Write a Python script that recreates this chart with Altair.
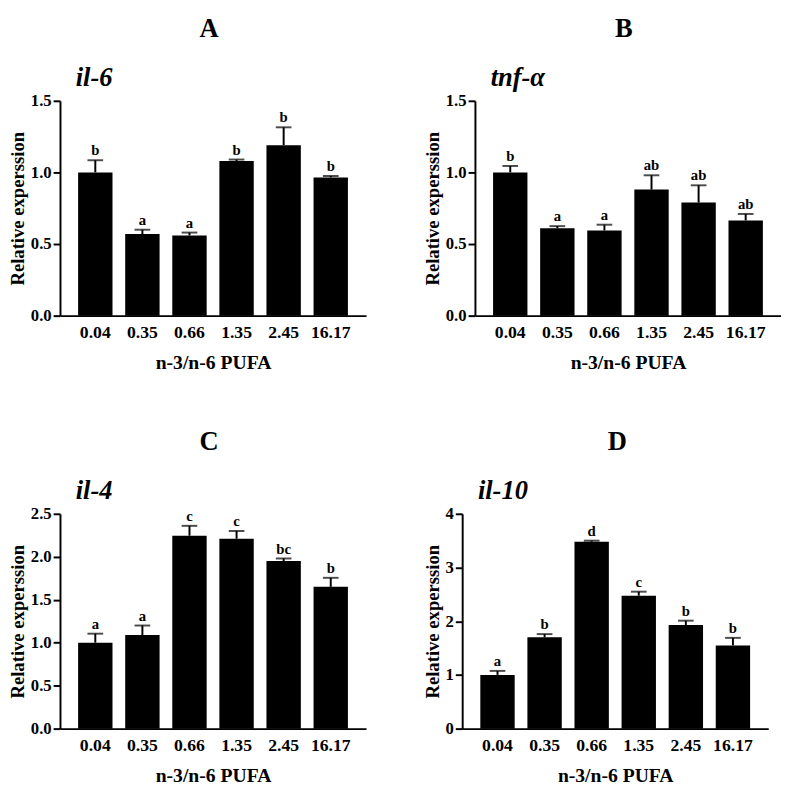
import altair as alt
import pandas as pd

categories = ["0.04", "0.35", "0.66", "1.35", "2.45", "16.17"]

il6_mean = [1.00, 0.57, 0.56, 1.08, 1.19, 0.965]
il6_upper = [1.085, 0.60, 0.58, 1.09, 1.315, 0.975]
il6_letters = ["b", "a", "a", "b", "b", "b"]

tnf_mean = [1.00, 0.61, 0.595, 0.88, 0.79, 0.665]
tnf_upper = [1.045, 0.625, 0.635, 0.98, 0.91, 0.71]
tnf_letters = ["b", "a", "a", "ab", "ab", "ab"]

il4_mean = [1.00, 1.09, 2.245, 2.21, 1.95, 1.65]
il4_upper = [1.105, 1.20, 2.36, 2.30, 1.98, 1.755]
il4_letters = ["a", "a", "c", "c", "bc", "b"]

il10_mean = [1.00, 1.70, 3.48, 2.475, 1.93, 1.55]
il10_upper = [1.075, 1.76, 3.50, 2.55, 2.01, 1.69]
il10_letters = ["a", "b", "d", "c", "b", "b"]

FONT = "Liberation Serif"


def panel(mean, upper, letters, gene, ymax, yvalues, fmt, label):
    df = pd.DataFrame({"ratio": categories, "mean": mean, "upper": upper, "letter": letters})
    xenc = alt.X(
        "ratio:N", sort=categories, title="n-3/n-6 PUFA",
        scale=alt.Scale(paddingInner=0.27, paddingOuter=0.385),
        axis=alt.Axis(labelAngle=0, ticks=False, labelFontSize=18, labelFont=FONT,
                      labelFontWeight="bold", labelColor="black", titleFontSize=20,
                      titleFont=FONT, titleFontWeight="bold", titleColor="black",
                      domainColor="black", domainWidth=2, labelPadding=8, titlePadding=12),
    )
    xplain = alt.X("ratio:N", sort=categories)
    yenc = alt.Y(
        "mean:Q", title="Relative experssion",
        scale=alt.Scale(domain=[0, ymax], nice=False, zero=True),
        axis=alt.Axis(values=yvalues, format=fmt, grid=False, labelFontSize=17, labelFont=FONT,
                      labelFontWeight="bold", labelColor="black", titleFontSize=19,
                      titleFont=FONT, titleFontWeight="bold", titleColor="black",
                      domainColor="black", domainWidth=2, tickColor="black", tickWidth=2,
                      tickSize=7, labelPadding=2, titlePadding=3),
    )
    base = alt.Chart(df)
    bars = base.mark_bar(color="black").encode(x=xenc, y=yenc)
    err = base.mark_rule(color="black", strokeWidth=2).encode(x=xplain, y="mean:Q", y2="upper:Q")
    cap = base.mark_tick(color="black", thickness=2, size=16).encode(x=xplain, y="upper:Q")
    txt = base.mark_text(baseline="bottom", dy=-2, font=FONT, fontWeight="bold",
                         fontSize=15, color="black").encode(x=xplain, y="upper:Q", text="letter:N")
    layer = alt.layer(bars, err, cap, txt).properties(
        width=312, height=219,
        title=alt.Title(gene, anchor="start", frame="group", dx=16, font=FONT, fontSize=27,
                        fontStyle="italic", fontWeight="bold", offset=0, color="black"),
    )
    return alt.vconcat(
        layer,
        title=alt.Title(label, anchor="middle", dx=22, offset=22, fontSize=27, font=FONT,
                        fontWeight="bold", color="black"),
    )


pA = panel(il6_mean, il6_upper, il6_letters, "il-6", 1.5, [0, 0.5, 1.0, 1.5], ".1f", "A")
pB = panel(tnf_mean, tnf_upper, tnf_letters, "tnf-α", 1.5, [0, 0.5, 1.0, 1.5], ".1f", "B")
pC = panel(il4_mean, il4_upper, il4_letters, "il-4", 2.5, [0, 0.5, 1.0, 1.5, 2.0, 2.5], ".1f", "C")
pD = panel(il10_mean, il10_upper, il10_letters, "il-10", 4, [0, 1, 2, 3, 4], "d", "D")

chart = alt.vconcat(
    alt.hconcat(pA, pB, spacing=58),
    alt.hconcat(pC, pD, spacing=58),
    spacing=57,
).properties(padding=0).configure_view(stroke=None)

chart.save("out.html", embed_options={"renderer": "svg", "actions": False})
